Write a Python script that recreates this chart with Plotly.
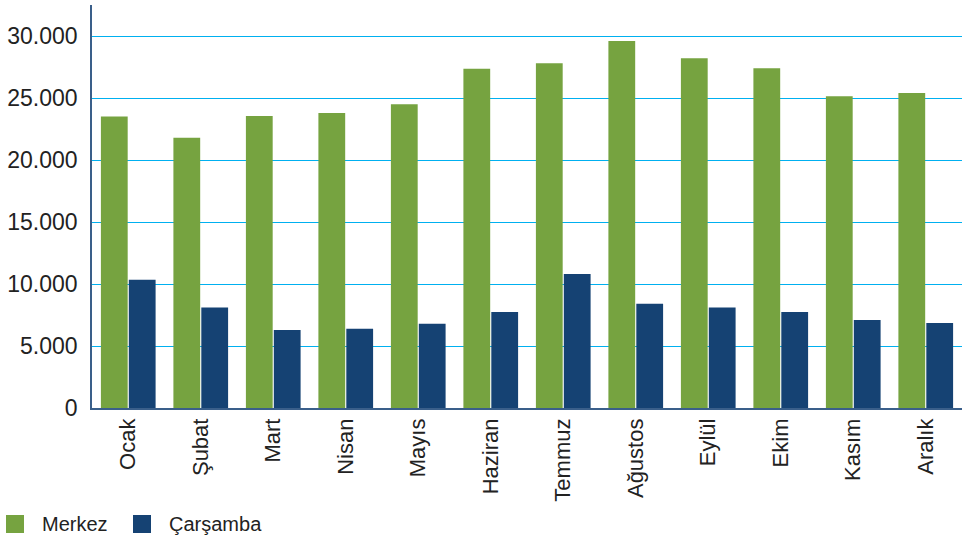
import plotly.graph_objects as go

months = ["Ocak", "Şubat", "Mart", "Nisan", "Mayıs", "Haziran", "Temmuz",
          "Ağustos", "Eylül", "Ekim", "Kasım", "Aralık"]
merkez = [23500, 21800, 23550, 23800, 24500, 27350, 27800, 29600, 28200, 27400, 25150, 25400]
carsamba = [10350, 8100, 6300, 6400, 6800, 7750, 10800, 8400, 8100, 7750, 7100, 6850]
y_ticks = [0, 5000, 10000, 15000, 20000, 25000, 30000]
series_names = ["Merkez", "Çarşamba"]
series_colors = ["#76A340", "#154273"]

FONT = "Liberation Sans, Arial, sans-serif"
L, R, T, B = 92, 0, 5, 132
W, H = 962, 540
PW, PH = W - L - R, H - T - B


def px_x(px):
    return (px - L) / PW


def px_y(py):
    return (H - B - py) / PH


fig = go.Figure()
for name, vals, col in zip(series_names, [merkez, carsamba], series_colors):
    fig.add_trace(go.Bar(name=name, x=months, y=vals, marker_color=col,
                         marker_line_width=0, showlegend=False))

# manual legend (large squares like the reference)
legend_sq_x = [6, 133]
legend_txt_x = [40, 167]
shapes, annos = [], []
for i, name in enumerate(series_names):
    shapes.append(dict(type="rect", xref="paper", yref="paper",
                       x0=px_x(legend_sq_x[i]), x1=px_x(legend_sq_x[i] + 18),
                       y0=px_y(533), y1=px_y(515),
                       fillcolor=series_colors[i], line_width=0))
    annos.append(dict(xref="paper", yref="paper", x=px_x(legend_txt_x[i]),
                      y=px_y(524), text=name, showarrow=False,
                      xanchor="left", yanchor="middle",
                      font=dict(size=20, color="#222222", family=FONT)))

fig.update_layout(
    width=W, height=H,
    margin=dict(l=L, r=R, t=T, b=B),
    plot_bgcolor="white", paper_bgcolor="white",
    barmode="group", bargap=0.23, bargroupgap=0.04,
    separators=",.",
    font=dict(family=FONT, color="#222222"),
    showlegend=False,
    shapes=shapes, annotations=annos,
)
fig.update_yaxes(range=[0, 32500], tickvals=y_ticks, tickformat=",d",
                 showgrid=True, gridcolor="#00B0F0", gridwidth=1,
                 showline=True, linecolor="#3a5f8a", linewidth=1.5,
                 ticks="", tickfont=dict(size=23, color="#222222"),
                 ticklabelstandoff=8, zeroline=False, automargin=False)
fig.update_xaxes(showline=True, linecolor="#3a5f8a", linewidth=1.5,
                 tickangle=-90, tickfont=dict(size=22, color="#222222"),
                 ticks="", showgrid=False, automargin=False)

fig.write_html("out.html", config={"displayModeBar": False},
               post_script="document.body.style.margin='0';document.body.style.overflow='hidden';")
